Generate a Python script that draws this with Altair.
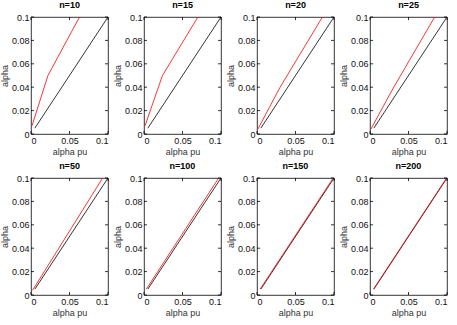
import altair as alt
import pandas as pd

# Sample sizes, one panel each
sizes = [10, 15, 20, 25, 50, 100, 150, 200]

# Reference diagonal (nominal level vs itself)
diag_pu = [0.005, 0.1]
diag_alpha = [0.005, 0.1]

# Actual level (alpha) against the nominal per-unit level (alpha pu)
red_pu = {
    10: [0.0013, 0.022, 0.063],
    15: [0.0013, 0.024, 0.070],
    20: [0.001, 0.030, 0.085],
    25: [0.001, 0.030, 0.084],
    50: [0.002, 0.093],
    100: [0.003, 0.097],
    150: [0.004, 0.099],
    200: [0.0045, 0.0995],
}
red_alpha = {
    10: [0.007, 0.050, 0.1],
    15: [0.007, 0.050, 0.1],
    20: [0.004, 0.040, 0.1],
    25: [0.004, 0.039, 0.1],
    50: [0.004, 0.1],
    100: [0.005, 0.1],
    150: [0.005, 0.1],
    200: [0.005, 0.1],
}

x_ticks = [0, 0.05, 0.1]
y_ticks = [0, 0.02, 0.04, 0.06, 0.08, 0.1]

W, H = 77, 117
TICK = 3
FONT = "Liberation Sans"

rows = []
for n in sizes:
    for i, (p, a) in enumerate(zip(diag_pu, diag_alpha)):
        rows.append({"n": n, "series": "diag", "pu": p, "alpha": a, "ord": i})
    for i, (p, a) in enumerate(zip(red_pu[n], red_alpha[n])):
        rows.append({"n": n, "series": "test", "pu": p, "alpha": a, "ord": i})
df = pd.DataFrame(rows)

xt = pd.DataFrame({"t": x_ticks})
yt = pd.DataFrame({"t": y_ticks})

xscale = alt.Scale(domain=[0, 0.1], nice=False, zero=False)
yscale = alt.Scale(domain=[0, 0.1], nice=False, zero=False)
xaxis = alt.Axis(values=x_ticks, format="~g", title="alpha pu",
                 grid=False, ticks=False, domain=False)
yaxis = alt.Axis(values=y_ticks, format="~g", title="alpha",
                 grid=False, ticks=False, domain=False)


def panel(n):
    d = df[df["n"] == n]
    lines = alt.Chart(d).mark_line(strokeWidth=0.8, clip=True).encode(
        x=alt.X("pu:Q", scale=xscale, axis=xaxis),
        y=alt.Y("alpha:Q", scale=yscale, axis=yaxis),
        color=alt.Color("series:N", scale=alt.Scale(domain=["diag", "test"],
                                                    range=["#000000", "#ff0000"]),
                        legend=None),
        detail="series:N",
        order="ord:Q",
    )
    # inward tick marks on all four sides of the frame
    tick_style = dict(color="black", strokeWidth=0.8)
    xb = alt.Chart(xt).mark_rule(**tick_style).encode(
        x=alt.X("t:Q", scale=xscale, axis=xaxis), y=alt.value(H), y2=alt.value(H - TICK))
    xtop = alt.Chart(xt).mark_rule(**tick_style).encode(
        x=alt.X("t:Q", scale=xscale, axis=xaxis), y=alt.value(0), y2=alt.value(TICK))
    yl = alt.Chart(yt).mark_rule(**tick_style).encode(
        y=alt.Y("t:Q", scale=yscale, axis=yaxis), x=alt.value(0), x2=alt.value(TICK))
    yr = alt.Chart(yt).mark_rule(**tick_style).encode(
        y=alt.Y("t:Q", scale=yscale, axis=yaxis), x=alt.value(W), x2=alt.value(W - TICK))
    return alt.layer(lines, xb, xtop, yl, yr).properties(
        width=W, height=H,
        title=alt.TitleParams(f"n={n}", fontSize=9, fontWeight="bold",
                              font=FONT, offset=3),
    )


chart = alt.concat(
    *[panel(n) for n in sizes], columns=4,
    spacing={"row": 44, "column": 36}, bounds="flush",
).properties(
    padding={"left": 0, "top": 0, "right": 5, "bottom": 5},
    background="white",
).configure_view(
    stroke="black", strokeWidth=0.8,
).configure_axis(
    labelFont=FONT, titleFont=FONT, labelFontSize=9, titleFontSize=9,
    labelColor="#111111", titleColor="#333333", titleFontWeight="normal",
    labelPadding=2, titlePadding=2,
).configure_title(anchor="middle", color="black")

chart.save("out.html", embed_options={"renderer": "svg", "actions": False})
